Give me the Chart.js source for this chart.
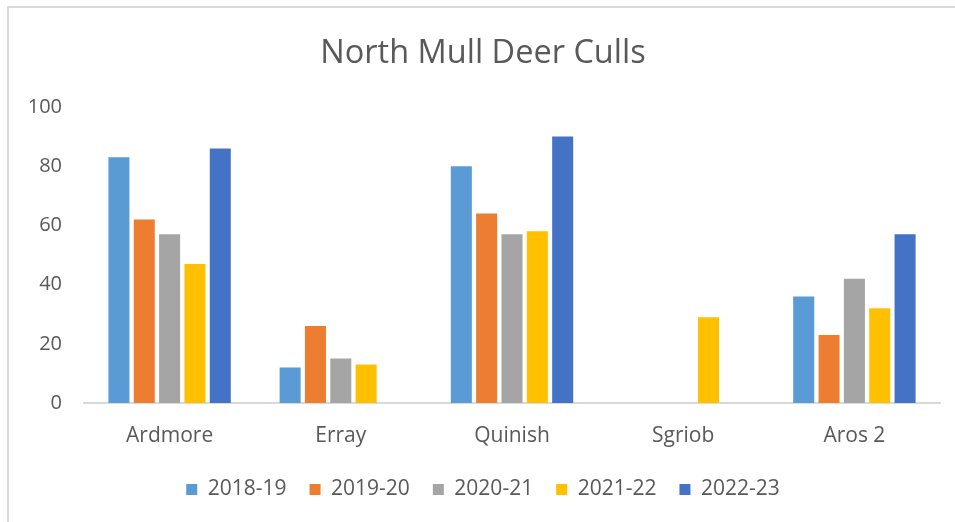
<!DOCTYPE html>
<html>
<head>
<meta charset="utf-8">
<script src="https://cdn.jsdelivr.net/npm/chart.js@4"></script>
<style>
  html, body { margin: 0; padding: 0; background: #fff; }
  #wrap { position: relative; width: 955px; height: 522px; overflow: hidden; }
  #frame { position: absolute; left: 7px; top: 6px; width: 1000px; height: 600px;
           border-top: 2px solid #d9d9d9; border-left: 2px solid #d9d9d9; box-sizing: border-box; }
  canvas { position: absolute; left: 0; top: 0; }
</style>
</head>
<body>
<div id="wrap">
  <div id="frame"></div>
  <canvas id="grafica" width="955" height="522"></canvas>
</div>
<script>
// data
const categorias = ['Ardmore', 'Erray', 'Quinish', 'Sgriob', 'Aros 2'];
const temporadas = ['2018-19', '2019-20', '2020-21', '2021-22', '2022-23'];
const c2018 = [83, 12, 80, null, 36];
const c2019 = [62, 26, 64, null, 23];
const c2020 = [57, 15, 57, null, 42];
const c2021 = [47, 13, 58, 29, 32];
const c2022 = [86, null, 90, null, 57];
const yTicks = [0, 20, 40, 60, 80, 100];

const colores = ['#5B9BD5', '#ED7D31', '#A5A5A5', '#FFC000', '#4472C4'];
const series = [c2018, c2019, c2020, c2021, c2022];
const gris = '#595959';
const fuente = "'Open Sans', 'Liberation Sans', sans-serif";

const ctx = document.getElementById('grafica');
Chart.defaults.font.family = fuente;
Chart.defaults.color = gris;

const grafica = new Chart(ctx, {
    type: 'bar',
    data: {
        labels: categorias,
        datasets: series.map((s, i) => ({
            label: temporadas[i],
            data: s,
            backgroundColor: colores[i],
            borderWidth: 0,
            categoryPercentage: 0.74,
            barPercentage: 0.83
        }))
    },
    options: {
        responsive: false,
        animation: false,
        layout: { padding: { left: 26, right: 15, top: 30, bottom: 12 } },
        plugins: {
            title: {
                display: true,
                text: 'North Mull Deer Culls',
                color: gris,
                font: { size: 32.5, weight: 'normal' },
                padding: { top: 4, bottom: 34 }
            },
            legend: {
                position: 'bottom',
                labels: {
                    color: gris,
                    boxWidth: 11,
                    boxHeight: 11,
                    padding: 23,
                    font: { size: 21 }
                }
            },
            tooltip: { enabled: false }
        },
        scales: {
            x: {
                afterFit: ax => { ax.height = 53; },
                grid: { display: false, drawTicks: false },
                border: { display: true, color: '#d9d9d9', width: 2 },
                ticks: { color: gris, font: { size: 21 }, padding: 20 }
            },
            y: {
                min: 0,
                max: 100,
                afterBuildTicks: ax => { ax.ticks = yTicks.map(v => ({ value: v })); },
                afterFit: ax => { ax.width = 58; },
                grid: { display: false, drawTicks: false },
                border: { display: false },
                ticks: { color: gris, font: { size: 20 }, padding: 22 }
            }
        }
    }
});
</script>
</body>
</html>
